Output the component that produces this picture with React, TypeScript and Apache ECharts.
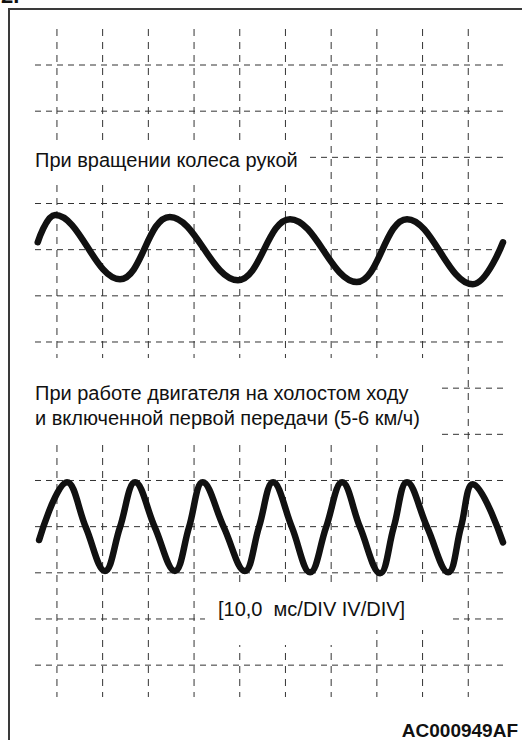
import React, { useEffect, useRef } from "react";
import * as echarts from "echarts";

// Grid divisions (oscilloscope screen), in division units
const GRID_COLS = [0, 1, 2, 3, 4, 5, 6, 7, 8, 9];
const GRID_ROWS = [0, 1, 2, 3, 4, 5, 6, 7, 8, 9, 10, 11, 12, 13];
const X_RANGE = [-0.48, 9.76];
const Y_RANGE = [-0.78, 13.69];

// Waveform 1: wheel turned by hand (peaks / troughs, x, y in divisions, y downward)
const WAVE1_X = [-0.42, -0.04, 1.38, 2.47, 3.96, 5.1, 6.56, 7.66, 9.1, 9.76];
const WAVE1_Y = [3.84, 3.25, 4.64, 3.29, 4.66, 3.34, 4.7, 3.34, 4.75, 3.84];

// Waveform 2: engine idling, first gear (5-6 km/h)
const WAVE2_X = [-0.39, 0.22, 0.63, 1.05, 1.38, 1.71, 2.14, 2.58, 2.89, 3.19, 3.65, 4.11, 4.42, 4.73, 5.14, 5.54, 5.89, 6.24, 6.63, 7.07, 7.37, 7.66, 8.1, 8.56, 8.84, 9.1, 9.76];
const WAVE2_Y = [10.29, 9.04, 10.01, 10.96, 10.01, 9.04, 10.01, 10.96, 10.01, 9.04, 10.01, 10.96, 10.01, 9.04, 10.01, 10.99, 10.01, 9.04, 10.01, 11.01, 10.01, 9.04, 10.01, 10.99, 10.01, 9.08, 10.34];

// Texts
const FIG_LABEL = "2.";
const LABEL_1 = "При вращении колеса рукой";
const LABEL_2A = "При работе двигателя на холостом ходу";
const LABEL_2B = "и включенной первой передачи (5-6 км/ч)";
const LABEL_3 = "[10,0  мс/DIV IV/DIV]";
const CODE_LABEL = "AC000949AF";

const FONT = "'Liberation Sans', Arial, Helvetica, sans-serif";

function textEl(text: string, x: number, y: number, font: string, align = "left") {
  return {
    type: "text",
    x,
    y,
    z: 110,
    silent: true,
    style: {
      text,
      fill: "#111",
      font,
      textAlign: align,
      align,
      textVerticalAlign: "middle",
      verticalAlign: "middle",
    },
  };
}

function maskEl(x: number, y: number, width: number, height: number) {
  return {
    type: "rect",
    z: 100,
    silent: true,
    shape: { x, y, width, height },
    style: { fill: "#ffffff" },
  };
}

export default function App() {
  const ref = useRef<HTMLDivElement>(null);

  useEffect(() => {
    if (!ref.current) return;
    const chart = echarts.init(ref.current, null, { renderer: "svg" });

    const gridSeries: any[] = [
      ...GRID_COLS.map((c) => ({
        type: "line",
        data: [
          [c, Y_RANGE[0]],
          [c, Y_RANGE[1]],
        ],
        symbol: "none",
        silent: true,
        z: 1,
        lineStyle: { color: "#333", width: 1, type: [7, 6] },
      })),
      ...GRID_ROWS.map((r) => ({
        type: "line",
        data: [
          [X_RANGE[0], r],
          [X_RANGE[1], r],
        ],
        symbol: "none",
        silent: true,
        z: 1,
        lineStyle: { color: "#333", width: 1, type: [6, 5] },
      })),
    ];

    const waveSeries: any[] = [
      {
        type: "line",
        data: WAVE1_X.map((x, i) => [x, WAVE1_Y[i]]),
        symbol: "none",
        smooth: 0.4,
        silent: true,
        z: 5,
        lineStyle: { color: "#111", width: 6.5, cap: "round", join: "round" },
      },
      {
        type: "line",
        data: WAVE2_X.map((x, i) => [x, WAVE2_Y[i]]),
        symbol: "none",
        smooth: 0.4,
        silent: true,
        z: 5,
        lineStyle: { color: "#111", width: 6.5, cap: "round", join: "round" },
      },
    ];

    chart.setOption({
      animation: false,
      backgroundColor: "#ffffff",
      grid: { left: 35, right: 19, top: 29, bottom: 43 },
      xAxis: { type: "value", min: X_RANGE[0], max: X_RANGE[1], show: false },
      yAxis: { type: "value", min: Y_RANGE[0], max: Y_RANGE[1], inverse: true, show: false },
      series: [...gridSeries, ...waveSeries],
      graphic: [
        {
          type: "polyline",
          z: 120,
          silent: true,
          shape: { points: [[9, 742], [9, 9], [524, 9]] },
          style: { stroke: "#3a3a3a", lineWidth: 2, fill: null },
        },
        maskEl(33, 141, 277, 42),
        maskEl(33, 358, 407, 84),
        maskEl(205, 588, 247, 42),
        maskEl(235, 588, 110, 57),
        textEl(FIG_LABEL, 1, -5, `bold 22px ${FONT}`),
        textEl(LABEL_1, 35, 160, `20px ${FONT}`),
        textEl(LABEL_2A, 35, 393, `20px ${FONT}`),
        textEl(LABEL_2B, 35, 418, `20px ${FONT}`),
        textEl(LABEL_3, 218, 609, `20px ${FONT}`),
        textEl(CODE_LABEL, 518, 730, `bold 19px ${FONT}`, "right"),
      ],
    });

    return () => chart.dispose();
  }, []);

  return (
    <div
      ref={ref}
      style={{ position: "fixed", left: 0, top: 0, width: 522, height: 740, background: "#fff" }}
    />
  );
}
